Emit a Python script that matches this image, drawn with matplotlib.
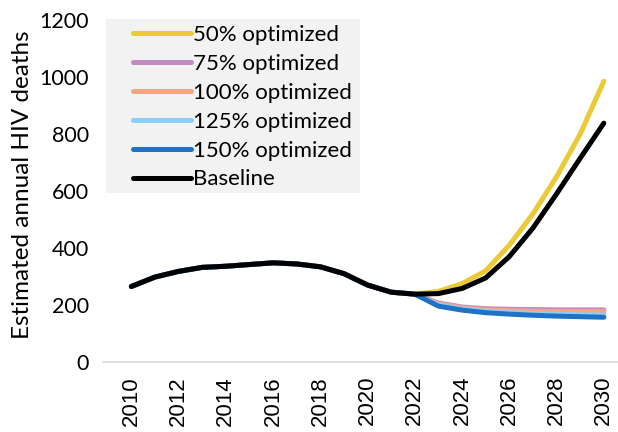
import matplotlib.pyplot as plt
from matplotlib.patches import Rectangle

years = list(range(2010, 2031))

baseline = [265, 298, 318, 332, 336, 342, 348, 344, 334, 310, 270, 245, 238,
            240, 258, 295, 370, 470, 590, 715, 838]
hist = baseline[:13]
opt50 = hist + [248, 275, 320, 410, 520, 650, 800, 985]
opt75 = hist + [207, 193, 187, 185, 184, 183, 183, 183]
opt100 = hist + [204, 190, 183, 180, 178, 177, 177, 177]
opt125 = hist + [200, 186, 178, 173, 170, 167, 166, 165]
opt150 = hist + [196, 182, 173, 168, 164, 161, 159, 157]

labels = ['50% optimized', '75% optimized', '100% optimized',
          '125% optimized', '150% optimized', 'Baseline']
colors = ['#ECC936', '#C08BBF', '#F4A582', '#8ECFF8', '#1F72C4', '#000000']
series = [opt50, opt75, opt100, opt125, opt150, baseline]

W, H = 618, 432
fig = plt.figure(figsize=(W / 100, H / 100), dpi=100)
ax = fig.add_axes([103 / W, 1 - 362 / H, 1 - 103 / W, (362 - 20) / H])

for s, c, l in zip(series, colors, labels):
    ax.plot(years, s, color=c, lw=3.6, label=l, solid_capstyle='round')

ax.set_xlim(2008.8, 2030.6)
ax.set_ylim(0, 1200)
ax.set_xticks(range(2010, 2031, 2))
ax.set_yticks(range(0, 1201, 200))
ax.tick_params(length=0)
ax.tick_params(axis='x', rotation=90, pad=10, labelsize=16)
ax.tick_params(axis='y', pad=10, labelsize=15.5)
for lab in ax.get_xticklabels():
    lab.set_family('Liberation Sans')
for lab in ax.get_yticklabels():
    lab.set_family('Lato')
for sp in ['top', 'right', 'left']:
    ax.spines[sp].set_visible(False)
ax.spines['bottom'].set_color('#d9d9d9')
ax.spines['bottom'].set_linewidth(1.2)

ax.set_ylabel('Estimated annual HIV deaths', fontsize=17.5, family='Lato')
ax.yaxis.set_label_coords(33 / W, 1 - 185 / H, transform=fig.transFigure)

# grey legend background box
ax.add_patch(Rectangle((106 / W, 1 - 193 / H), (360 - 106) / W, (193 - 19) / H,
                       transform=fig.transFigure, facecolor='#f2f2f2',
                       edgecolor='none', zorder=0.5, clip_on=False))
leg = ax.legend(loc='upper left', bbox_to_anchor=(133 / W, 1 - 25 / H),
                bbox_transform=fig.transFigure, frameon=False,
                prop={'family': 'Lato', 'size': 16}, handlelength=2.6,
                handletextpad=0.08, labelspacing=0.4, borderaxespad=0.0,
                borderpad=0.0)

fig.savefig('out.png', dpi=100)
